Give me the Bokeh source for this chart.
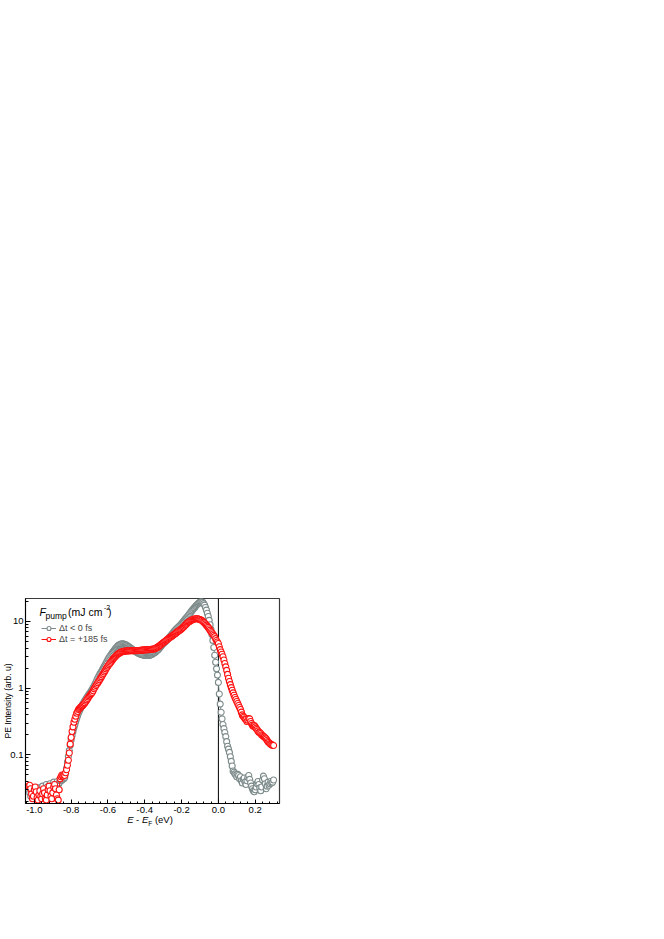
import math
import numpy as np
from bokeh.plotting import figure
from bokeh.layouts import column
from bokeh.models import (Range1d, FixedTicker, Span, Label, Legend, LegendItem, Div,
                          NumeralTickFormatter, CustomJSTickFormatter, ColumnDataSource)
from bokeh.embed import file_html
from bokeh.resources import INLINE

# ---------------- data ----------------
E_START = -1.030   # eV, first energy of the measurement grid
E_STEP = 0.005     # eV

# PE intensity, delta t < 0 fs (grey)
pre_pump = [
    0.030, 0.027, 0.024, 0.028, 0.026, 0.022, 0.025, 0.029, 0.026, 0.023,
    0.028, 0.032, 0.027, 0.024, 0.030, 0.034, 0.029, 0.026, 0.031, 0.036,
    0.033, 0.028, 0.032, 0.037, 0.034, 0.030, 0.035, 0.039, 0.036, 0.032,
    0.037, 0.040, 0.036, 0.038, 0.041,
    0.041, 0.042, 0.043, 0.044, 0.046, 0.052, 0.063, 0.078, 0.095, 0.116,
    0.14, 0.168, 0.195, 0.225, 0.254, 0.283, 0.316, 0.35, 0.387, 0.424,
    0.455, 0.489, 0.525, 0.555, 0.585, 0.618, 0.653, 0.686, 0.721, 0.757,
    0.794, 0.832, 0.871, 0.914, 0.966, 1.02, 1.08, 1.15, 1.23, 1.32,
    1.42, 1.51, 1.60, 1.68, 1.78, 1.88, 2.00, 2.11, 2.24, 2.38,
    2.53, 2.69, 2.82, 2.97, 3.12, 3.27, 3.42, 3.57, 3.72, 3.89,
    4.03, 4.18, 4.34, 4.43, 4.50, 4.57, 4.59, 4.61, 4.60, 4.54,
    4.48, 4.42, 4.32, 4.24, 4.14, 4.06, 3.95, 3.85, 3.76, 3.68,
    3.61, 3.54, 3.48, 3.41, 3.35, 3.30, 3.26, 3.21, 3.18, 3.16,
    3.13, 3.11, 3.10, 3.10, 3.09, 3.10, 3.12, 3.14, 3.16, 3.23,
    3.30, 3.36, 3.43, 3.52, 3.63, 3.73, 3.85, 4.00, 4.16, 4.34,
    4.50, 4.63, 4.75, 4.90, 5.07, 5.25, 5.42, 5.62, 5.85, 6.07,
    6.31, 6.56, 6.82, 7.10, 7.38, 7.62, 7.87, 8.13, 8.38, 8.65,
    8.93, 9.23, 9.62, 10.0, 10.4, 10.9, 11.3, 11.7, 12.2, 12.7,
    13.2, 13.8, 14.4, 15.0, 15.6, 16.1, 16.7, 17.3, 17.9, 18.4,
    19.0, 19.5, 19.8, 19.8, 19.3, 18.5, 17.6, 16.2, 14.8, 13.3,
    11.9, 10.4, 8.93, 7.62, 6.37, 5.20, 4.07, 3.11, 2.45, 1.95,
    1.57, 1.22, 0.82, 0.577, 0.435, 0.347, 0.286, 0.248, 0.217, 0.188,
    0.158, 0.135, 0.122, 0.109, 0.094, 0.080, 0.068, 0.0575, 0.055, 0.052,
    0.050, 0.047, 0.051, 0.049, 0.044, 0.047, 0.041, 0.038, 0.043, 0.045,
    0.039, 0.036, 0.041, 0.046, 0.049, 0.043, 0.038, 0.034, 0.031, 0.029,
    0.028, 0.030, 0.033, 0.037, 0.040, 0.036, 0.032, 0.029, 0.033, 0.042,
    0.048, 0.044, 0.037, 0.031, 0.034, 0.039, 0.035, 0.037, 0.040, 0.038,
    0.039, 0.042,
]

# PE intensity, delta t = +185 fs (red)
pumped = [
    0.034, 0.035, 0.031, 0.026, 0.022, 0.024, 0.030, 0.033, 0.028, 0.023,
    0.021, 0.025, 0.029, 0.024, 0.022, 0.026, 0.031, 0.027, 0.022, 0.021,
    0.025, 0.030, 0.034, 0.029, 0.024, 0.022, 0.027, 0.033, 0.036, 0.031,
    0.025, 0.022, 0.021, 0.030, 0.044,
    0.047, 0.050, 0.048, 0.050, 0.049, 0.054, 0.060, 0.070, 0.083, 0.107,
    0.145, 0.182, 0.224, 0.263, 0.309, 0.343, 0.380, 0.422, 0.447, 0.479,
    0.495, 0.513, 0.527, 0.543, 0.562, 0.583, 0.605, 0.635, 0.667, 0.700,
    0.736, 0.766, 0.796, 0.828, 0.863, 0.912, 0.977, 1.035, 1.094, 1.148,
    1.205, 1.268, 1.337, 1.413, 1.489, 1.57, 1.66, 1.75, 1.845, 1.945,
    2.04, 2.14, 2.24, 2.34, 2.45, 2.56, 2.67, 2.77, 2.86, 2.96,
    3.06, 3.16, 3.25, 3.32, 3.38, 3.44, 3.51, 3.53, 3.56, 3.58,
    3.60, 3.61, 3.62, 3.63, 3.63, 3.64, 3.64, 3.65, 3.65, 3.66,
    3.66, 3.66, 3.66, 3.66, 3.67, 3.67, 3.69, 3.70, 3.72, 3.72,
    3.73, 3.75, 3.76, 3.77, 3.78, 3.78, 3.79, 3.80, 3.82, 3.84,
    3.85, 3.87, 3.89, 3.96, 4.05, 4.12, 4.21, 4.32, 4.44, 4.55,
    4.67, 4.78, 4.90, 5.01, 5.15, 5.29, 5.43, 5.57, 5.70, 5.82,
    5.96, 6.11, 6.25, 6.41, 6.56, 6.73, 6.92, 7.10, 7.26, 7.41,
    7.59, 7.76, 8.02, 8.28, 8.55, 8.83, 9.12, 9.40, 9.70, 9.93,
    10.1, 10.3, 10.5, 10.6, 10.8, 10.9, 11.0, 11.0, 11.0, 11.0,
    10.8, 10.7, 10.5, 10.4, 10.1, 9.79, 9.51, 9.16, 8.81, 8.47,
    8.15, 7.78, 7.41, 7.08, 6.79, 6.49, 6.21, 5.93, 5.53, 5.19,
    4.93, 4.68, 4.17, 3.78, 3.49, 3.22, 2.96, 2.65, 2.34, 2.09,
    1.85, 1.61, 1.41, 1.26, 1.13, 1.02, 0.931, 0.851, 0.783, 0.724,
    0.676, 0.631, 0.589, 0.550, 0.513, 0.479, 0.437, 0.398, 0.380, 0.367,
    0.347, 0.339, 0.316, 0.331, 0.351, 0.347, 0.316, 0.295, 0.279, 0.269,
    0.275, 0.263, 0.251, 0.240, 0.229, 0.219, 0.216, 0.209, 0.200, 0.195,
    0.190, 0.186, 0.180, 0.174, 0.166, 0.158, 0.153, 0.148, 0.145, 0.141,
    0.140, 0.138,
]

x_ticks = [-1.0, -0.8, -0.6, -0.4, -0.2, 0.0, 0.2]
y_ticks = [0.1, 1, 10]
series_labels = ["\u0394t < 0 fs", "\u0394t = +185 fs"]
y_title = "PE Intensity (arb. u)"
x_title_html = "<i>E</i> - <i>E</i><sub style='font-size:6.5px'>F</sub> (eV)"

assert len(pre_pump) == len(pumped) == 267, (len(pre_pump), len(pumped))
energy = np.round(E_START + E_STEP * np.arange(len(pre_pump)), 3)

# ---------------- layout ----------------
FRAME_L, FRAME_T, FRAME_W, FRAME_H = 24, 598, 254, 205
BORDER_R, BORDER_B = 20, 13
X0, X1 = -1.048, 0.332
Y0, Y1 = 0.01868, 22.1
FONT = "Liberation Sans"
GREY = "#7e8b8b"
RED = "#ff1010"

p = figure(frame_width=FRAME_W, frame_height=FRAME_H,
           x_range=Range1d(X0, X1), y_range=Range1d(Y0, Y1),
           y_axis_type="log", output_backend="svg", toolbar_location=None,
           min_border_left=FRAME_L, min_border_top=FRAME_T,
           min_border_right=BORDER_R, min_border_bottom=BORDER_B)
p.grid.visible = False
p.outline_line_color = "#3a3a3a"
p.outline_line_width = 1.2
p.background_fill_color = "white"
p.border_fill_color = "white"

minor_x = [round(v, 2) for v in np.arange(-1.04, 0.33, 0.04)]
minor_y = [m * 10.0 ** e for e in (-2, -1, 0, 1) for m in range(2, 10) if Y0 <= m * 10.0 ** e <= Y1]
p.xaxis.ticker = FixedTicker(ticks=x_ticks, minor_ticks=minor_x)
p.yaxis.ticker = FixedTicker(ticks=y_ticks, minor_ticks=minor_y)
p.xaxis.formatter = NumeralTickFormatter(format="0.0")
p.yaxis.formatter = CustomJSTickFormatter(code="return tick < 1 ? tick.toFixed(1) : tick.toFixed(0);")

for ax in (p.xaxis[0], p.yaxis[0]):
    ax.axis_line_color = "black"
    ax.axis_line_width = 1
    ax.major_tick_line_color = "black"
    ax.minor_tick_line_color = "black"
    ax.major_tick_out = 0
    ax.minor_tick_out = 0
    ax.major_label_text_font = FONT
    ax.major_label_text_font_size = "9.5px"
    ax.major_label_text_color = "black"
p.xaxis.major_tick_in = 4
p.xaxis.minor_tick_in = 2
p.yaxis.major_tick_in = 5
p.yaxis.minor_tick_in = 3
p.xaxis.major_label_standoff = 3
p.yaxis.major_label_standoff = 2

p.yaxis.axis_label = y_title
p.yaxis.axis_label_text_font = FONT
p.yaxis.axis_label_text_font_size = "8.5px"
p.yaxis.axis_label_text_font_style = "normal"
p.yaxis.axis_label_text_color = "black"
p.yaxis.axis_label_standoff = -6

# vertical line at E_F
p.add_layout(Span(location=0.0, dimension="height", line_color="black",
                  line_width=1, level="underlay"))

src = ColumnDataSource(dict(E=energy, grey=pre_pump, red=pumped))
gl = p.line("E", "grey", source=src, line_color=GREY, line_width=1)
gs = p.scatter("E", "grey", source=src, marker="circle", size=6,
               fill_color="white", line_color=GREY, line_width=1.1)
rl = p.line("E", "red", source=src, line_color=RED, line_width=1)
rs = p.scatter("E", "red", source=src, marker="circle", size=6,
               fill_color="white", line_color=RED, line_width=1.1)

legend = Legend(items=[LegendItem(label=series_labels[0], renderers=[gl, gs]),
                       LegendItem(label=series_labels[1], renderers=[rl, rs])],
                location=(16, 159), glyph_width=15, glyph_height=10,
                label_height=10, label_standoff=3, spacing=1, padding=0, margin=0,
                border_line_alpha=0, background_fill_alpha=0,
                label_text_font=FONT, label_text_font_size="9px")
p.add_layout(legend)


def px_x(px):
    return X0 + (px - FRAME_L) / FRAME_W * (X1 - X0)


def px_y(py):
    l0, l1 = math.log10(Y0), math.log10(Y1)
    return 10 ** (l1 - (py - FRAME_T) / FRAME_H * (l1 - l0))


def text(px, py, s, size, style="normal", align="left"):
    p.add_layout(Label(x=px_x(px), y=px_y(py), text=s, text_font=FONT,
                       text_font_size=size, text_font_style=style,
                       text_align=align, text_baseline="middle",
                       text_color="black"))


# legend title: F_pump (mJ cm^-2)
text(38, 611.5, "F", "10.5px", "italic")
text(44, 615.5, "pump", "8.5px")
text(66.5, 611.5, "(mJ cm", "10.5px")
text(102.5, 607, "-2", "7px")
text(106.5, 611.5, ")", "10.5px")

total_w = FRAME_L + FRAME_W + BORDER_R
x_title = Div(text=x_title_html, width=total_w, height=14, margin=(-2, 0, 0, 0),
              styles={"text-align": "center", "font-family": FONT,
                      "font-size": "9.5px", "color": "black",
                      "line-height": "12px", "padding-left": "2px"})

layout = column(p, x_title, spacing=0)
open("out.html", "w").write(file_html(layout, INLINE))
